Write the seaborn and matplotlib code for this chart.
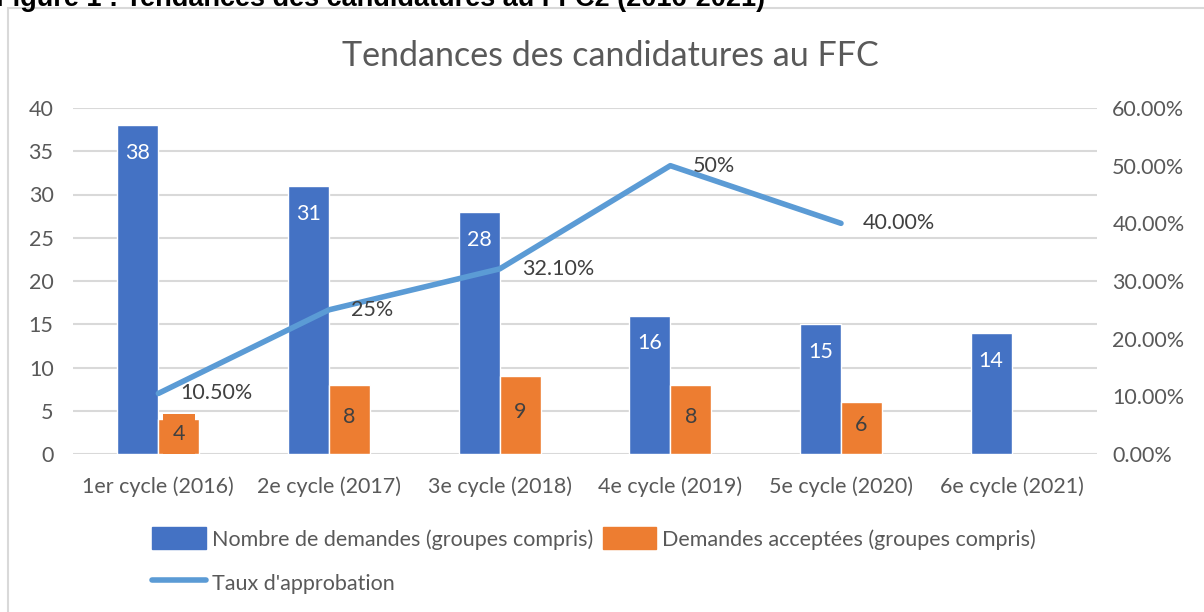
import numpy as np
import pandas as pd
import seaborn as sns
import matplotlib.pyplot as plt
from matplotlib.patches import Patch, Rectangle
from matplotlib.lines import Line2D
from matplotlib.ticker import FuncFormatter

# data
cycles = ['1er cycle (2016)', '2e cycle (2017)', '3e cycle (2018)',
          '4e cycle (2019)', '5e cycle (2020)', '6e cycle (2021)']
demandes = [38, 31, 28, 16, 15, 14]
acceptees = [4, 8, 9, 8, 6, np.nan]
taux = [0.105, 0.25, 0.321, 0.50, 0.40, np.nan]
taux_labels = ['10.50%', '25%', '32.10%', '50%', '40.00%', '']

lab_dem = 'Nombre de demandes (groupes compris)'
lab_acc = 'Demandes acceptées (groupes compris)'
lab_taux = "Taux d'approbation"

BLUE = '#4472C4'
ORANGE = '#ED7D31'
LINE = '#5B9BD5'
GRID = '#D9D9D9'
TXT = '#595959'
FS = 15.5

sns.set_style('white')
plt.rcParams['font.family'] = ['Lato', 'DejaVu Sans']

df = pd.DataFrame({
    'cycle': cycles * 2,
    'valeur': demandes + acceptees,
    'serie': [lab_dem] * len(cycles) + [lab_acc] * len(cycles),
})

fig = plt.figure(figsize=(12.04, 6.12), dpi=100)
ax = fig.add_axes([73 / 1204, 1 - 454 / 612, 1024 / 1204, 346 / 612])

sns.barplot(data=df, x='cycle', y='valeur', hue='serie', palette=[BLUE, ORANGE],
            width=0.48, gap=0, saturation=1, ax=ax, legend=False)
ax.set_ylim(0, 40)
ax.set_yticks(range(0, 41, 5))
ax.grid(axis='y', color=GRID, lw=1.5)
ax.set_axisbelow(True)
for s in ax.spines.values():
    s.set_visible(False)
ax.tick_params(length=0, labelsize=FS, labelcolor=TXT)
ax.tick_params(axis='x', pad=16)
ax.tick_params(axis='y', pad=14)
ax.set_xlabel('')
ax.set_ylabel('')

# bar labels (the orange ones sit on a filled label box, like in the original)
for cont, col, pos in zip(ax.containers, ['white', '#404040'], ['end', 'center']):
    for rect in cont:
        h = rect.get_height()
        if np.isnan(h) or h == 0:
            continue
        xc = rect.get_x() + rect.get_width() / 2
        if pos == 'end':
            ax.annotate(f'{int(h)}', (xc, h), xytext=(0, -20), textcoords='offset points',
                        ha='center', va='center', color=col, fontsize=FS)
        else:
            ax.annotate(f'{int(h)}', (xc, h / 2), xytext=(0, 2), textcoords='offset points',
                        ha='center', va='center', color=col, fontsize=FS,
                        bbox=dict(boxstyle='square,pad=0.45', fc=ORANGE, ec='none'))

# rate line on the secondary axis
ax2 = ax.twinx()
xs = np.arange(len(cycles))
sns.lineplot(x=xs, y=taux, color=LINE, lw=4, ax=ax2)
ax2.set_ylim(0, 0.6)
ax2.set_yticks(np.arange(0, 0.61, 0.1))
ax2.yaxis.set_major_formatter(FuncFormatter(lambda v, p: f'{v * 100:.2f}%'))
for s in ax2.spines.values():
    s.set_visible(False)
ax2.tick_params(length=0, labelsize=FS, labelcolor=TXT, pad=11)
ax.set_xlim(-0.5, len(cycles) - 0.5)
for x, v, t in zip(xs, taux, taux_labels):
    if t:
        ax2.annotate(t, (x, v), xytext=(16, 0), textcoords='offset points',
                     ha='left', va='center', color='#404040', fontsize=FS)

# title, caption and frame
fig.text(0.507, 1 - 56 / 612, 'Tendances des candidatures au FFC', ha='center', va='center',
         fontsize=24.5, color=TXT)
fig.text(-0.003, 1 - 6 / 612, 'Figure 1 : Tendances des candidatures au FFC2 (2016-2021)',
         ha='left', va='baseline', fontsize=19.5, fontweight='bold', color='black',
         family='Liberation Sans')
fig.patches.append(Rectangle((8 / 1204, -0.05), 1.2, 1.05 - 8 / 612, transform=fig.transFigure,
                             fill=False, edgecolor=GRID, lw=1.5))

handles = [Patch(color=BLUE, label=lab_dem),
           Line2D([], [], color=LINE, lw=4, label=lab_taux),
           Patch(color=ORANGE, label=lab_acc)]
fig.legend(handles=handles, ncol=2, loc='upper left', bbox_to_anchor=(133 / 1204, 1 - 508 / 612),
           frameon=False, fontsize=FS, labelcolor=TXT, handlelength=2.5, handleheight=1.2,
           handletextpad=0.25, columnspacing=0.45, labelspacing=1.0)

fig.savefig('out.png', dpi=100)
